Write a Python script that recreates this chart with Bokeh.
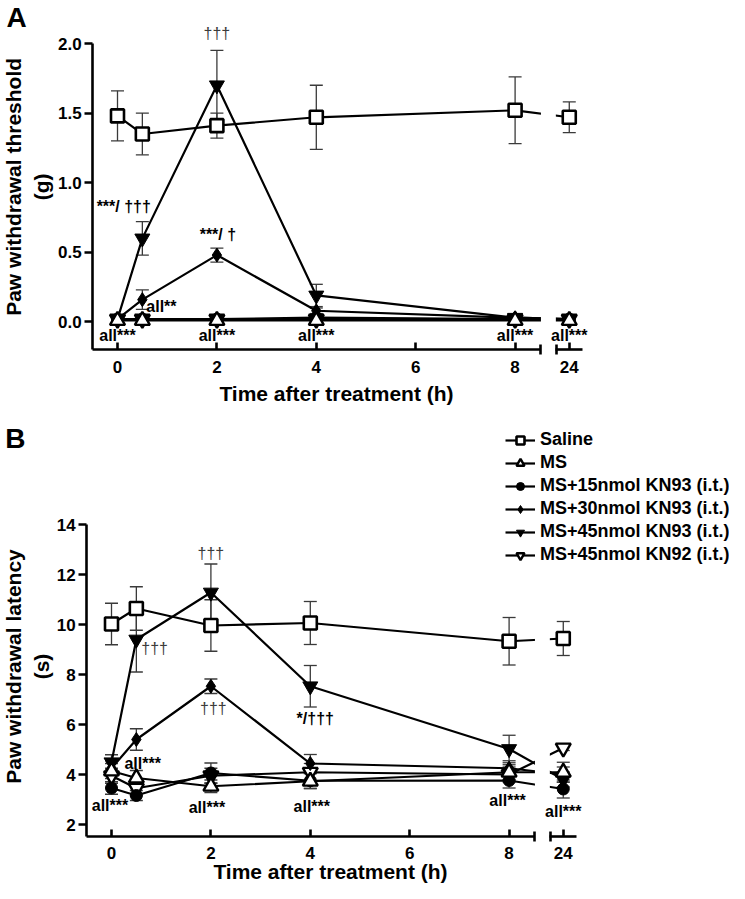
from bokeh.plotting import figure
from bokeh.layouts import column
from bokeh.models import (ColumnDataSource, Whisker, TeeHead, LinearAxis, FixedTicker,
                          Label, Legend, LegendItem, BoxAnnotation, Range1d,
                          CustomJSTickFormatter, NumeralTickFormatter)
from bokeh.embed import file_html
from bokeh.resources import INLINE

FONT = "Liberation Sans"

# ---------------- data ----------------
times = [0, 0.5, 2, 4, 8, 24]
x_ticks_main = [0, 2, 4, 6, 8]
group_names = ["Saline", "MS", "MS+15nmol KN93 (i.t.)", "MS+30nmol KN93 (i.t.)",
               "MS+45nmol KN93 (i.t.)", "MS+45nmol KN92 (i.t.)"]

# Panel A: paw withdrawal threshold (g), mean and SEM
a_saline = [1.48, 1.35, 1.41, 1.47, 1.52, 1.47]
a_saline_sem = [0.18, 0.15, 0.09, 0.23, 0.24, 0.11]
a_ms = [0.01, 0.01, 0.01, 0.01, 0.01, 0.01]
a_ms_sem = [0.01, 0.01, 0.01, 0.01, 0.01, 0.01]
a_kn93_15 = [0.02, 0.02, 0.02, 0.03, 0.02, 0.02]
a_kn93_15_sem = [0.01, 0.01, 0.01, 0.01, 0.01, 0.01]
a_kn93_30 = [0.02, 0.16, 0.48, 0.08, 0.03, 0.02]
a_kn93_30_sem = [0.01, 0.07, 0.05, 0.02, 0.01, 0.01]
a_kn93_45 = [0.02, 0.60, 1.70, 0.19, 0.03, 0.02]
a_kn93_45_sem = [0.01, 0.12, 0.25, 0.08, 0.01, 0.01]
a_kn92_45 = [0.02, 0.02, 0.02, 0.02, 0.02, 0.02]
a_kn92_45_sem = [0.01, 0.01, 0.01, 0.01, 0.01, 0.01]
a_y_ticks = [0.0, 0.5, 1.0, 1.5, 2.0]

# Panel B: paw withdrawal latency (s), mean and SEM
b_saline = [10.02, 10.64, 9.96, 10.06, 9.33, 9.44]
b_saline_sem = [0.83, 0.87, 1.03, 0.86, 0.95, 0.68]
b_ms = [4.14, 3.86, 3.53, 3.73, 4.09, 4.09]
b_ms_sem = [0.30, 0.30, 0.25, 0.30, 0.30, 0.40]
b_kn93_15 = [3.46, 3.16, 4.06, 3.75, 3.76, 3.42]
b_kn93_15_sem = [0.25, 0.20, 0.40, 0.30, 0.30, 0.36]
b_kn93_30 = [4.25, 5.40, 7.53, 4.44, 4.25, 4.00]
b_kn93_30_sem = [0.30, 0.43, 0.29, 0.36, 0.30, 0.30]
b_kn93_45 = [4.49, 9.40, 11.28, 7.53, 5.02, 3.80]
b_kn93_45_sem = [0.30, 1.30, 1.14, 0.83, 0.55, 0.30]
b_kn92_45 = [3.95, 3.45, 3.95, 4.09, 4.00, 5.06]
b_kn92_45_sem = [0.30, 0.30, 0.30, 0.35, 0.30, 0.10]
b_y_ticks = [2, 4, 6, 8, 10, 12, 14]

# ---------------- broken x axis ----------------
LATE = 24
AXIS_X = -0.5       # where the y axis stands
BREAK_A = 8.52      # end of first axis segment
BREAK_B = 8.82      # start of second axis segment
LATE_POS = 9.09     # position of the 24 h column
SEG_END = 9.36
PX_PER_H = 49.7
FIG_W = 729


def xpos(t):
    return t if t <= 8 else LATE_POS + (t - LATE)


xs = [xpos(t) for t in times]

# marker style for each group (same order as group_names)
styles = [
    dict(marker="square", size=13, fill_color="white", line_width=2.6),
    dict(marker="triangle", size=15, fill_color="white", line_width=2.4),
    dict(marker="circle", size=12, fill_color="black", line_width=1),
    dict(marker="diamond", size=14, fill_color="black", line_width=1),
    dict(marker="inverted_triangle", size=15, fill_color="black", line_width=1),
    dict(marker="inverted_triangle", size=15, fill_color="white", line_width=2.4),
]
draw_order = [0, 5, 4, 3, 2, 1]


def style_axis(ax):
    ax.axis_line_width = 2.6
    ax.axis_line_color = "black"
    ax.major_tick_line_width = 2.6
    ax.minor_tick_line_width = 2.6
    ax.major_label_text_font = FONT
    ax.major_label_text_font_style = "bold"
    ax.major_label_text_font_size = "17px"
    ax.major_label_text_color = "black"


def text_label(p, x, y, text, size, bold=True, color="black", align="center", angle=0):
    p.add_layout(Label(x=x, y=y, text=text, text_font=FONT, text_font_size=size,
                       text_font_style="bold" if bold else "normal", text_color=color,
                       text_align=align, text_baseline="middle", angle=angle,
                       angle_units="deg", text_line_height=1.2))


def make_panel(means, sems, height, x_start, y_start, y_end, y_axis_lo, y_axis_hi,
               y_ticks, y_fmt, y_label, ylab_xy, xlab_xy, letter, letter_xy, notes,
               gap_top, gap_bottom, legend_loc=None):
    x_end = x_start + FIG_W / PX_PER_H
    p = figure(frame_width=FIG_W, frame_height=height,
               x_range=Range1d(x_start, x_end), y_range=Range1d(y_start, y_end),
               output_backend="svg", toolbar_location=None,
               min_border_left=0, min_border_right=0, min_border_top=0, min_border_bottom=0)
    p.grid.visible = False
    p.outline_line_color = None
    p.background_fill_color = "white"
    p.border_fill_color = "white"

    # main x axis segment (0-8 h)
    ax = p.xaxis[0]
    style_axis(ax)
    ax.fixed_location = y_axis_lo
    ax.bounds = (AXIS_X, BREAK_A)
    ax.ticker = FixedTicker(ticks=x_ticks_main, minor_ticks=[BREAK_A - 0.003])
    ax.major_tick_in = 7
    ax.major_tick_out = 0
    ax.minor_tick_in = 5
    ax.minor_tick_out = 5
    ax.major_label_standoff = 6

    # second x axis segment (24 h)
    ax2 = LinearAxis(fixed_location=y_axis_lo, bounds=(BREAK_B, SEG_END),
                     ticker=FixedTicker(ticks=[LATE_POS], minor_ticks=[BREAK_B + 0.003]),
                     formatter=CustomJSTickFormatter(args=dict(pos=LATE_POS, late=LATE),
                                                     code="return String(Math.round(tick - pos + late))"))
    style_axis(ax2)
    ax2.major_tick_in = 7
    ax2.major_tick_out = 0
    ax2.minor_tick_in = 5
    ax2.minor_tick_out = 5
    ax2.major_label_standoff = 6
    p.add_layout(ax2, "below")

    ay = p.yaxis[0]
    style_axis(ay)
    ay.fixed_location = AXIS_X
    ay.bounds = (y_axis_lo, y_axis_hi)
    ay.ticker = FixedTicker(ticks=y_ticks)
    if y_fmt:
        ay.formatter = NumeralTickFormatter(format=y_fmt)
    ay.major_tick_out = 8
    ay.major_tick_in = 0
    ay.major_label_standoff = 3

    sources = []
    for m, s in zip(means, sems):
        sources.append(ColumnDataSource(dict(
            x=xs, y=m,
            upper=[a + b for a, b in zip(m, s)],
            lower=[a - b for a, b in zip(m, s)])))

    # error bars (behind everything)
    for src in sources:
        w = Whisker(base="x", upper="upper", lower="lower", source=src,
                    line_color="#3a3a3a", line_width=1.3, level="underlay",
                    upper_head=TeeHead(size=13, line_color="#3a3a3a", line_width=1.3),
                    lower_head=TeeHead(size=13, line_color="#3a3a3a", line_width=1.3))
        p.add_layout(w)

    line_r = {}
    for i in draw_order:
        line_r[i] = p.line("x", "y", source=sources[i], line_color="black", line_width=2.2)

    # hide the lines inside the axis break
    p.add_layout(BoxAnnotation(left=BREAK_A, right=BREAK_B, top=gap_top, bottom=gap_bottom,
                               fill_color="white", fill_alpha=1, line_alpha=0))

    mark_r = {}
    for i in draw_order:
        st = styles[i]
        mark_r[i] = p.scatter("x", "y", source=sources[i], marker=st["marker"], size=st["size"],
                              fill_color=st["fill_color"], line_color="black",
                              line_width=st["line_width"])

    for text, t, y, align, bold in notes:
        text_label(p, xpos(t), y, text, "16px", bold=bold,
                   color="black" if bold else "#3c3c3c", align=align)

    # axis titles and panel letter
    text_label(p, ylab_xy[0], ylab_xy[1], y_label, "21px", angle=90)
    text_label(p, xlab_xy[0], xlab_xy[1], "Time after treatment (h)", "21px")
    text_label(p, letter_xy[0], letter_xy[1], letter, "28px")

    if legend_loc is not None:
        items = [LegendItem(label=group_names[i], renderers=[line_r[i], mark_r[i]])
                 for i in range(len(group_names))]
        leg = Legend(items=items, location=legend_loc, orientation="vertical",
                     background_fill_alpha=0, border_line_alpha=0,
                     label_text_font=FONT, label_text_font_size="18px",
                     label_text_font_style="bold", label_text_color="black",
                     glyph_width=30, glyph_height=20, label_height=20,
                     label_standoff=5, spacing=2, padding=0, margin=0)
        p.add_layout(leg, "center")
    return p


notes_a = [
    ("\u2020\u2020\u2020", 2, 2.07, "center", False),
    ("***/ \u2020\u2020\u2020", -0.42, 0.83, "left", True),
    ("***/ \u2020", 2.02, 0.625, "center", True),
    ("all**", 0.58, 0.11, "left", True),
    ("all***", 0, -0.10, "center", True),
    ("all***", 2, -0.10, "center", True),
    ("all***", 4, -0.10, "center", True),
    ("all***", 8, -0.095, "center", True),
    ("all***", 24, -0.095, "center", True),
]
notes_b = [
    ("\u2020\u2020\u2020", 2, 12.86, "center", False),
    ("\u2020\u2020\u2020", 0.6, 9.05, "left", False),
    ("\u2020\u2020\u2020", 2.05, 6.66, "center", False),
    ("*/\u2020\u2020\u2020", 4.1, 6.26, "center", True),
    ("all***", 0.26, 4.46, "left", True),
    ("all***", -0.03, 2.76, "center", True),
    ("all***", 1.92, 2.70, "center", True),
    ("all***", 4.03, 2.73, "center", True),
    ("all***", 7.97, 2.96, "center", True),
    ("all***", 24, 2.53, "center", True),
]

# Panel A: 139.2 px per g, figure 421 px tall, 2.0 g sits 43 px below its top,
# 0 h sits 117 px from its left
A_H = 421
a_y_end = 2.0 + 43 / 139.2
pA = make_panel([a_saline, a_ms, a_kn93_15, a_kn93_30, a_kn93_45, a_kn92_45],
                [a_saline_sem, a_ms_sem, a_kn93_15_sem, a_kn93_30_sem, a_kn93_45_sem, a_kn92_45_sem],
                A_H, -117 / PX_PER_H, a_y_end - A_H / 139.2, a_y_end, -0.2, 2.0,
                a_y_ticks, "0.0", "Paw withdrawal threshold\n(g)",
                (-1.811, 0.97), (4.406, -0.514), "A", (-2.032, 2.187), notes_a,
                gap_top=2.0, gap_bottom=-0.155)

# Panel B: 25 px per s, figure 462 px tall, 14 s sits 103 px below its top,
# 0 h sits 111 px from its left
B_H = 462
b_y_end = 14 + 103 / 25.0
pB = make_panel([b_saline, b_ms, b_kn93_15, b_kn93_30, b_kn93_45, b_kn92_45],
                [b_saline_sem, b_ms_sem, b_kn93_15_sem, b_kn93_30_sem, b_kn93_45_sem, b_kn92_45_sem],
                B_H, -111 / PX_PER_H, b_y_end - B_H / 25.0, b_y_end, 1.53, 14,
                b_y_ticks, None, "Paw withdrawal latency\n(s)",
                (-1.690, 8.32), (4.406, 0.12), "B", (-1.932, 17.44), notes_b,
                gap_top=12.0, gap_bottom=1.78, legend_loc=(505, 318))

layout = column(pA, pB, spacing=0)
open("out.html", "w").write(file_html(layout, INLINE))
